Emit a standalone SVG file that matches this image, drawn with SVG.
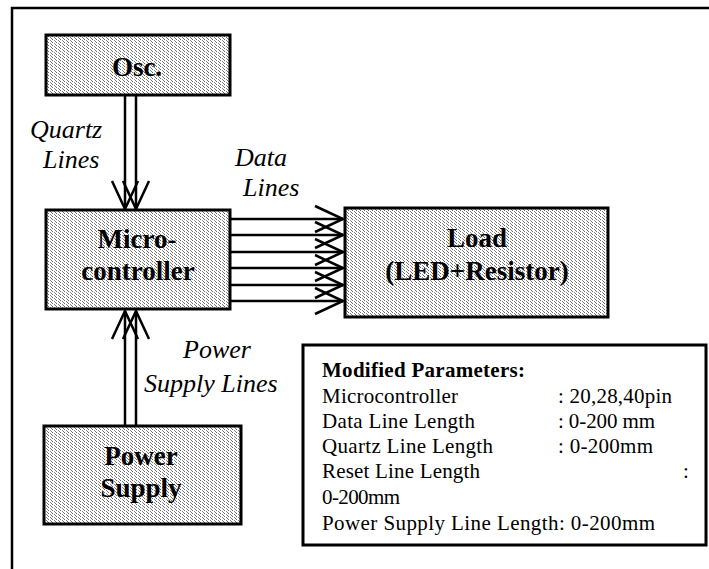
<svg xmlns="http://www.w3.org/2000/svg" width="709" height="569" viewBox="0 0 709 569">
<defs>
<pattern id="stip" patternUnits="userSpaceOnUse" x="0" y="0" width="4" height="3">
<rect width="4" height="3" fill="#ffffff"/>
<rect x="0" y="0" width="1" height="1" fill="#666"/>
<rect x="2" y="1" width="1" height="1" fill="#888"/>
<rect x="3" y="2" width="1" height="1" fill="#777"/>
</pattern>
<marker id="ah" markerUnits="userSpaceOnUse" viewBox="-32 -16 36 32" refX="0" refY="0" markerWidth="36" markerHeight="32" orient="auto" overflow="visible">
<path d="M-28,-13 L0,0 L-28,13" fill="none" stroke="#000" stroke-width="2.5"/>
</marker>
<style>
.box{fill:url(#stip);stroke:#000;stroke-width:3}
.lbl{font-family:'Liberation Serif','Times New Roman',serif;font-weight:bold;font-size:27px;fill:#000;text-anchor:middle}
.it{font-family:'Liberation Serif','Times New Roman',serif;font-style:italic;font-size:26px;fill:#000}
.pt{font-family:'Liberation Serif','Times New Roman',serif;font-size:21px;fill:#000}
.ln{stroke:#000;stroke-width:2.5;fill:none;marker-end:url(#ah)}
</style>
</defs>
<rect width="709" height="569" fill="#ffffff"/>
<g id="frame">
<path d="M12,569 L12,8 L709,8" fill="none" stroke="#000" stroke-width="2.5"/>
</g>
<g id="connectors">
<line class="ln" x1="125" y1="95" x2="125" y2="209"/>
<line class="ln" x1="136" y1="95" x2="136" y2="209"/>
<line class="ln" x1="125" y1="426" x2="125" y2="311"/>
<line class="ln" x1="136" y1="426" x2="136" y2="311"/>
<line class="ln" x1="230" y1="219" x2="343" y2="219"/>
<line class="ln" x1="230" y1="235" x2="343" y2="235"/>
<line class="ln" x1="230" y1="252" x2="343" y2="252"/>
<line class="ln" x1="230" y1="268" x2="343" y2="268"/>
<line class="ln" x1="230" y1="285" x2="343" y2="285"/>
<line class="ln" x1="230" y1="301" x2="343" y2="301"/>
</g>
<g id="labels">
<text class="it" x="30" y="138">Quartz</text>
<text class="it" x="43" y="168">Lines</text>
<text class="it" x="235" y="166">Data</text>
<text class="it" x="243" y="196">Lines</text>
<text class="it" x="183" y="358">Power</text>
<text class="it" x="144" y="392">Supply Lines</text>
</g>
<g id="osc">
<rect class="box" x="46" y="35" width="184" height="60"/>
<text class="lbl" x="137" y="76">Osc.</text>
</g>
<g id="microcontroller">
<rect class="box" x="46" y="210" width="184" height="99"/>
<text class="lbl" x="137" y="248">Micro-</text>
<text class="lbl" x="138" y="280">controller</text>
</g>
<g id="load">
<rect class="box" x="345" y="208" width="263" height="109"/>
<text class="lbl" x="477" y="247">Load</text>
<text class="lbl" x="477" y="280">(LED+Resistor)</text>
</g>
<g id="power-supply">
<rect class="box" x="44" y="426" width="197" height="98"/>
<text class="lbl" x="141" y="465">Power</text>
<text class="lbl" x="141" y="497">Supply</text>
</g>
<g id="parameters">
<rect x="303" y="345" width="403" height="200" fill="#ffffff" stroke="#000" stroke-width="3"/>
<text class="pt" x="322" y="377" font-weight="bold" textLength="203">Modified Parameters:</text>
<text class="pt" x="322" y="403" textLength="136">Microcontroller</text>
<text class="pt" x="558" y="403" textLength="114">: 20,28,40pin</text>
<text class="pt" x="322" y="428" textLength="153">Data Line Length</text>
<text class="pt" x="558" y="428" textLength="97">: 0-200 mm</text>
<text class="pt" x="322" y="453" textLength="171">Quartz Line Length</text>
<text class="pt" x="558" y="453" textLength="95">: 0-200mm</text>
<text class="pt" x="322" y="478" textLength="158">Reset Line Length</text>
<text class="pt" x="683" y="478">:</text>
<text class="pt" x="322" y="504" textLength="78">0-200mm</text>
<text class="pt" x="322" y="530" textLength="333">Power Supply Line Length: 0-200mm</text>
</g>
</svg>
